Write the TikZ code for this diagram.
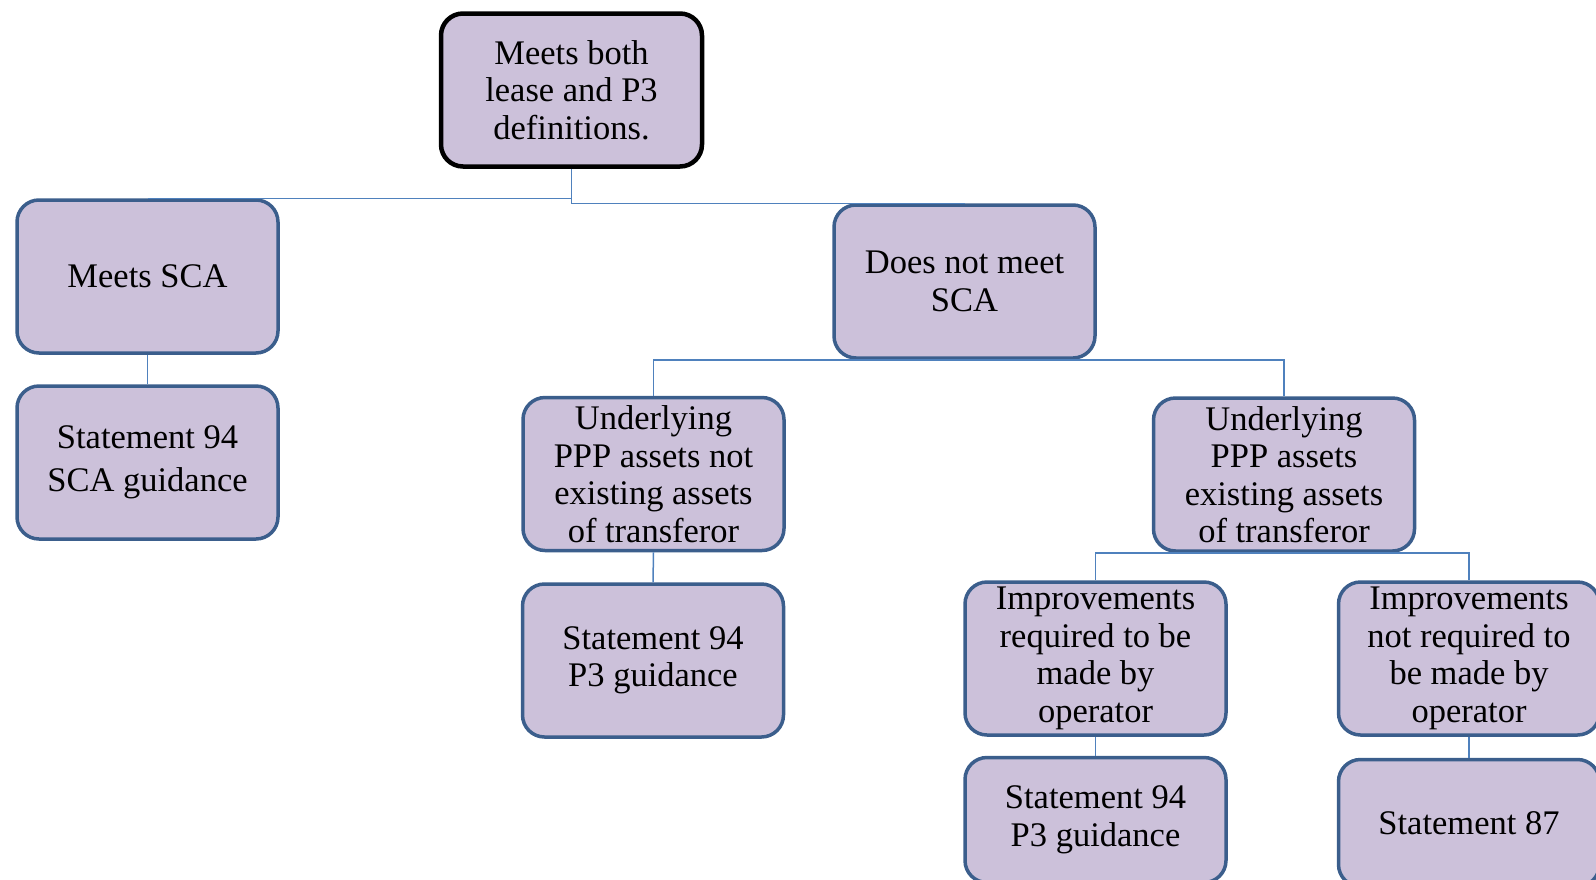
\documentclass[tikz,border=0pt]{standalone}
\usepackage{fontspec}
\setmainfont{Liberation Serif}
\definecolor{boxfill}{HTML}{CCC1DA}
\definecolor{boxline}{HTML}{3B5E8C}
\definecolor{conn}{HTML}{4F81BD}
\tikzset{
  box/.style={draw=boxline, line width=3.5pt, fill=boxfill, rounded corners=22pt,
    minimum width=261pt, minimum height=153pt, inner sep=0pt, align=center,
    font=\fontsize{34.5}{37.5}\selectfont},
  topbox/.style={box, draw=black, line width=4.5pt},
  conline/.style={draw=conn, line width=1.5pt}
}
\begin{document}
\begin{tikzpicture}[x=1pt,y=-1pt]
\useasboundingbox (0,0) rectangle (1596,879);
\clip (0,0) rectangle (1596,879);
\node[topbox] (top) at (571.5,90) {Meets both\\lease and P3\\definitions.};
\node[box] (meets) at (147.5,276.5) {Meets SCA};
\node[box, font=\fontsize{34.5}{43}\selectfont] (s94sca) at (147.5,462.5) {Statement 94\\SCA guidance};
\node[box] (dnm) at (964.5,281.5) {Does not meet\\SCA};
\node[box] (und1) at (653.5,474) {Underlying\\PPP assets not\\existing assets\\of transferor};
\node[box] (s94a) at (653,660.5) {Statement 94\\P3 guidance};
\node[box] (und2) at (1284,474.5) {Underlying\\PPP assets\\existing assets\\of transferor};
\node[box] (imp1) at (1095.5,658.5) {Improvements\\required to be\\made by\\operator};
\node[box, minimum height=125pt] (s94b) at (1095.5,820) {Statement 94\\P3 guidance};
\node[box] (imp2) at (1469,658.5) {Improvements\\not required to\\be made by\\operator};
\node[box, minimum height=127pt] (s87) at (1469,823) {Statement 87};
\draw[conline] (top.south) |- (meets.north);
\draw[conline] (top.south) |- (dnm.north);
\draw[conline] (meets.south) -- (s94sca.north);
\draw[conline] (und1.north) |- (dnm.south);
\draw[conline] (und2.north) |- (dnm.south);
\draw[conline] (und1.south) -- (s94a.north);
\draw[conline] (imp1.north) |- (und2.south);
\draw[conline] (imp2.north) |- (und2.south);
\draw[conline] (imp1.south) -- (s94b.north);
\draw[conline] (imp2.south) -- (s87.north);
\end{tikzpicture}
\end{document}
